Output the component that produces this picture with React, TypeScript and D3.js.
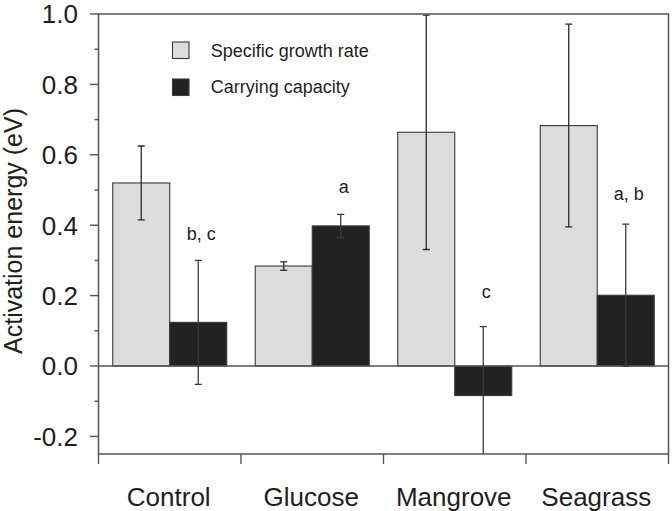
import React from "react";
import * as d3 from "d3";

const categories = ["Control", "Glucose", "Mangrove", "Seagrass"];
const growthRate = [0.52, 0.284, 0.664, 0.683];
const growthErr = [0.105, 0.012, 0.333, 0.288];
const capacity = [0.124, 0.398, -0.084, 0.201];
const capacityErr = [0.176, 0.033, 0.196, 0.202];
const letters = ["b, c", "a", "c", "a, b"];
const letterLevel = [0.358, 0.491, 0.192, 0.473];
const majorTicks = [-0.2, 0, 0.2, 0.4, 0.6, 0.8, 1.0];
const minorTicks = [-0.1, 0.1, 0.3, 0.5, 0.7, 0.9];
const seriesNames = ["Specific growth rate", "Carrying capacity"];

const W = 672;
const H = 511;
const left = 98.5;
const right = 668.5;
const top = 14;
const bottom = 454;
const FONT = "'Liberation Sans', Arial, Helvetica, sans-serif";
const fills = ["#dcdcdc", "#222222"];
const axisColor = "#555555";
const textColor = "#1e1e1e";

export default function App() {
  const y = d3.scaleLinear().domain([-0.25, 1.0]).range([bottom, top]);
  const x = d3.scaleBand<string>().domain(categories).range([left, right]).paddingInner(0).paddingOuter(0);
  const bw = x.bandwidth();
  const barW = bw * 0.4;
  const series = [
    { vals: growthRate, errs: growthErr },
    { vals: capacity, errs: capacityErr },
  ];
  const fmt = (t: number) => d3.format(".1f")(t).replace("\u2212", "-");

  return (
    <svg width={W} height={H} style={{ position: "absolute", left: 0, top: 0 }} fontFamily={FONT}>
      <defs>
        <clipPath id="plotclip">
          <rect x={left} y={top} width={right - left} height={bottom - top} />
        </clipPath>
      </defs>
      <rect x={0} y={0} width={W} height={H} fill="#ffffff" />
      {/* bars */}
      <g clipPath="url(#plotclip)">
        {series.map((s, si) =>
          categories.map((c, i) => {
            const x0 = (x(c) as number) + bw * 0.1 + si * barW;
            const v = s.vals[i];
            const y0 = y(Math.max(0, v));
            const h = Math.abs(y(v) - y(0));
            return (
              <rect
                key={`b${si}-${i}`}
                x={x0}
                y={y0}
                width={barW}
                height={h}
                fill={fills[si]}
                stroke="#3a3a3a"
                strokeWidth={1.1}
              />
            );
          })
        )}
        {/* zero line */}
        <line x1={left} x2={right} y1={y(0)} y2={y(0)} stroke={axisColor} strokeWidth={1.4} />
        {/* error bars */}
        {series.map((s, si) =>
          categories.map((c, i) => {
            const cx = (x(c) as number) + bw * 0.1 + si * barW + barW / 2;
            const v = s.vals[i];
            const e = s.errs[i];
            const yt = y(v + e);
            const yb = y(v - e);
            const cap = 3.5;
            return (
              <g key={`e${si}-${i}`} stroke={si === 0 ? "#2a2a2a" : "#3a3a3a"} strokeWidth={1.3}>
                <line x1={cx} x2={cx} y1={yt} y2={yb} />
                <line x1={cx - cap} x2={cx + cap} y1={yt} y2={yt} />
                {v - e > -0.25 && <line x1={cx - cap} x2={cx + cap} y1={yb} y2={yb} />}
              </g>
            );
          })
        )}
      </g>
      {/* frame */}
      <rect x={left} y={top} width={right - left} height={bottom - top} fill="none" stroke={axisColor} strokeWidth={1.5} />
      {/* y ticks */}
      {majorTicks.map((t) => (
        <g key={`yt${t}`}>
          <line x1={left - 8.5} x2={left} y1={y(t)} y2={y(t)} stroke={axisColor} strokeWidth={1.4} />
          <text x={78} y={y(t)} dy="0.36em" textAnchor="end" fontSize={26} fill={textColor}>
            {fmt(t)}
          </text>
        </g>
      ))}
      {minorTicks.map((t) => (
        <line key={`ym${t}`} x1={left - 4} x2={left} y1={y(t)} y2={y(t)} stroke={axisColor} strokeWidth={1.4} />
      ))}
      {/* x ticks at band boundaries */}
      {[...categories.map((c) => x(c) as number), right].map((px, i) => (
        <line key={`xt${i}`} x1={px} x2={px} y1={bottom} y2={bottom + 10} stroke={axisColor} strokeWidth={1.4} />
      ))}
      {categories.map((c) => (
        <text key={`xl${c}`} x={(x(c) as number) + bw / 2 - 1} y={505.5} textAnchor="middle" fontSize={26} fill={textColor}>
          {c}
        </text>
      ))}
      {/* y title */}
      <text transform={`translate(22, 231) rotate(-90)`} textAnchor="middle" fontSize={25} fill={textColor}>
        Activation energy (eV)
      </text>
      {/* significance letters */}
      {categories.map((c, i) => {
        const cx = (x(c) as number) + bw * 0.1 + barW + barW / 2;
        return (
          <text key={`lt${i}`} x={cx + 3} y={y(letterLevel[i])} textAnchor="middle" fontSize={18} fill={textColor}>
            {letters[i]}
          </text>
        );
      })}
      {/* legend */}
      {seriesNames.map((n, i) => (
        <g key={`lg${i}`}>
          <rect x={172.5} y={42 + i * 37} width={16.5} height={16.5} fill={fills[i]} stroke="#3a3a3a" strokeWidth={1.1} />
          <text x={210.7} y={56.7 + i * 36.6} fontSize={18} fill={textColor}>
            {n}
          </text>
        </g>
      ))}
    </svg>
  );
}
